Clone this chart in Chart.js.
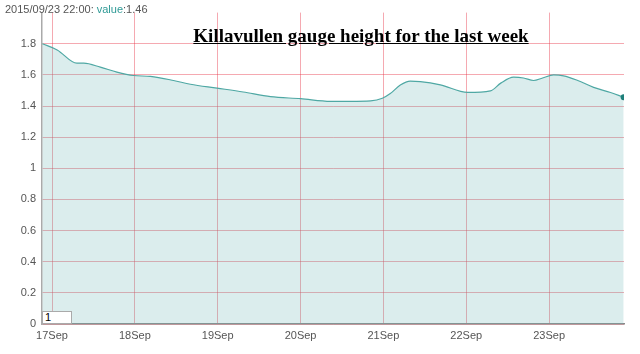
<!DOCTYPE html>
<html lang="en">
  <head>
    <title>Killavullen gauge height</title>
    <meta charset="UTF-8" />
    <script src="https://cdn.jsdelivr.net/npm/chart.js@4/dist/chart.umd.min.js"></script>
    <style>
      body { margin: 0; background: #fff; }
      #box { position: relative; width: 640px; height: 354px; }
      #info { position: absolute; left: 5px; top: 3px; font: 11px Arial, "Liberation Sans", sans-serif; color: #555; }
      #info span { color: #2f9a96; }
      #titulo { position: absolute; left: 0; width: 722px; top: 25px; text-align: center;
        font: bold 19px "Liberation Serif", "Times New Roman", serif; text-decoration: underline; color: #000; }
      #zoom { position: absolute; left: 42px; top: 311px; width: 26px; height: 11px; border: 1px solid #aaa;
        background: #fff; font: 11px Arial, sans-serif; padding: 0 0 0 2px; line-height: 11px; }
    </style>
  </head>
  <body>
    <div id="box">
      <canvas id="grafico" width="640" height="354"></canvas>
      <div id="info">2015/09/23 22:00: <span>value</span>:1.46</div>
      <div id="titulo">Killavullen gauge height for the last week</div>
      <div id="zoom">1</div>
    </div>
    <script>
      // hours counted from 17 Sep 2015 00:00
      var horas = [-2.8, 1.5, 7.2, 9.2, 14, 18.8, 23.6, 28.5, 35.2, 40.1, 47.8, 55.4, 63.3, 72, 80.7,
        86.5, 92.3, 95.7, 98, 100.9, 103.8, 106.7, 112.5, 120.4, 127, 130, 133.7, 136.6, 139.5,
        142.1, 145.3, 148.2, 152.3, 156.9, 161.8, 165.6];
      var altura = [1.8, 1.76, 1.675, 1.675, 1.65, 1.618, 1.596, 1.59, 1.564, 1.54, 1.515, 1.49, 1.46,
        1.447, 1.43, 1.43, 1.433, 1.45, 1.48, 1.535, 1.56, 1.557, 1.536, 1.487, 1.497, 1.547, 1.585,
        1.58, 1.564, 1.58, 1.6, 1.594, 1.564, 1.52, 1.487, 1.457];
      var dias = ['17Sep', '18Sep', '19Sep', '20Sep', '21Sep', '22Sep', '23Sep'];
      var diasHoras = [0, 24, 48, 72, 96, 120, 144];

      var pontos = horas.map(function (h, i) { return { x: h, y: altura[i] }; });
      var ultimo = pontos.length - 1;
      var vermelho = 'rgba(232,50,70,0.42)';

      new Chart(document.getElementById('grafico'), {
        type: 'line',
        data: {
          datasets: [{
            data: pontos,
            borderColor: '#4fa8a4',
            borderWidth: 1.2,
            backgroundColor: 'rgba(110,185,185,0.25)',
            fill: 'origin',
            cubicInterpolationMode: 'monotone',
            pointRadius: function (c) { return c.dataIndex === ultimo ? 3 : 0; },
            pointBackgroundColor: '#1e7f7a',
            pointBorderWidth: 0
          }]
        },
        options: {
          responsive: false,
          animation: false,
          layout: { padding: { top: 12, right: 16, left: 0, bottom: 0 } },
          plugins: { legend: { display: false }, tooltip: { enabled: false } },
          scales: {
            x: {
              type: 'linear',
              min: -2.9,
              max: 165.7,
              z: 1,
              afterBuildTicks: function (s) { s.ticks = diasHoras.map(function (v) { return { value: v }; }); },
              afterFit: function (s) { s.height = 30; },
              ticks: {
                callback: function (v) { return dias[diasHoras.indexOf(v)]; },
                color: '#555', font: { family: 'Arial', size: 11 }, maxRotation: 0, autoSkip: false, padding: 5
              },
              grid: { color: vermelho, drawTicks: false },
              border: { color: '#888', width: 1.5 }
            },
            y: {
              min: 0,
              max: 2,
              z: 1,
              afterFit: function (s) { s.width = 42; },
              ticks: {
                stepSize: 0.2,
                callback: function (v) { return v > 1.9 ? '' : Math.round(v * 10) / 10; },
                color: '#555', font: { family: 'Arial', size: 11 }, padding: 6
              },
              grid: {
                color: function (c) { return c.tick.value > 1.9 ? 'rgba(0,0,0,0)' : vermelho; },
                drawTicks: false
              },
              border: { color: '#aaa', width: 1.5 }
            }
          }
        }
      });
    </script>
  </body>
</html>
